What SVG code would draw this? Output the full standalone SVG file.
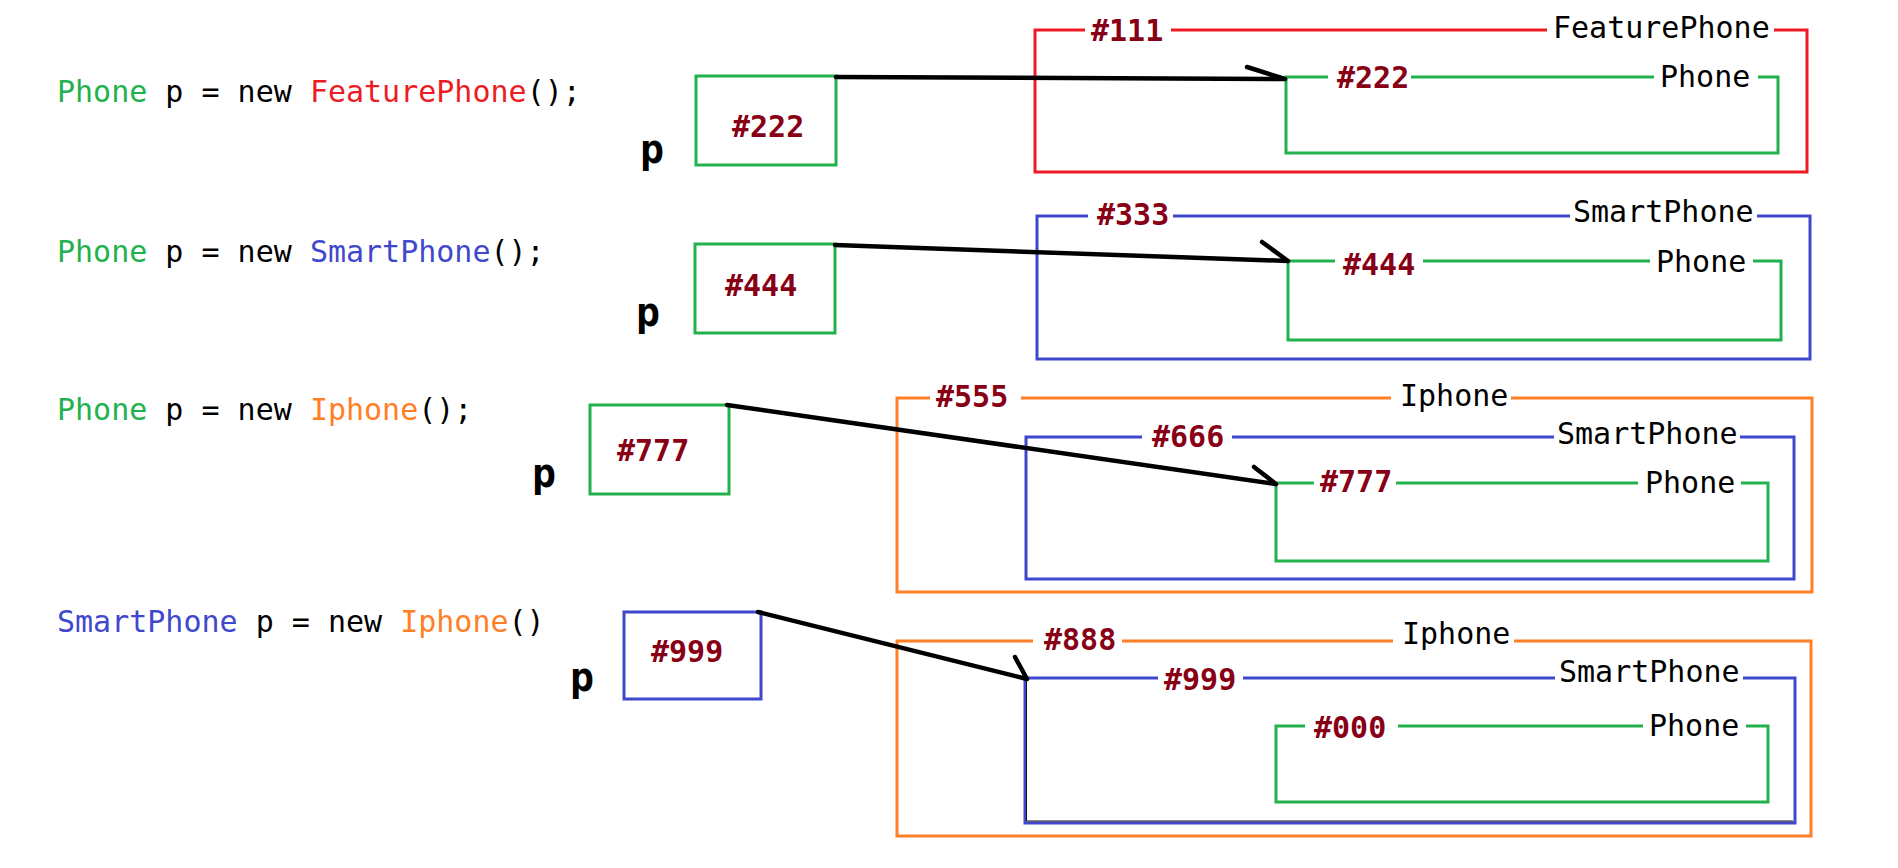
<svg xmlns="http://www.w3.org/2000/svg" width="1898" height="868" viewBox="0 0 1898 868">
<style>
  .code { font-family: "DejaVu Sans Mono", "Liberation Mono", monospace; font-size: 30px; fill: #000; }
  .g { fill: #22b14c; }
  .r { fill: #ed1c24; }
  .b { fill: #3f48cc; }
  .o { fill: #ff7f27; }
  .hex { font-family: "DejaVu Sans Mono", "Liberation Mono", monospace; font-size: 30px; font-weight: bold; fill: #880015; }
  .name { font-family: "DejaVu Sans Mono", "Liberation Mono", monospace; font-size: 30px; fill: #000; }
  .pv { font-family: "DejaVu Sans Mono", "Liberation Mono", monospace; font-size: 40px; font-weight: bold; fill: #000; }
  .box { fill: none; stroke-width: 3; }
  .sg { stroke: #22b14c; }
  .sr { stroke: #ed1c24; }
  .sb { stroke: #3f48cc; }
  .so { stroke: #ff7f27; }
  .bg { fill: #fff; }
  .conn { fill: none; stroke: #000; stroke-width: 4.5; stroke-linecap: round; stroke-linejoin: round; }
</style>
<rect width="1898" height="868" fill="#fff"/>

<!-- code lines -->
<g id="code1"><text class="code" x="57" y="102" xml:space="preserve"><tspan class="g">Phone</tspan> p = new <tspan class="r">FeaturePhone</tspan>();</text></g>
<g id="code2"><text class="code" x="57" y="262" xml:space="preserve"><tspan class="g">Phone</tspan> p = new <tspan class="b">SmartPhone</tspan>();</text></g>
<g id="code3"><text class="code" x="57" y="420" xml:space="preserve"><tspan class="g">Phone</tspan> p = new <tspan class="o">Iphone</tspan>();</text></g>
<g id="code4"><text class="code" x="57" y="632" xml:space="preserve"><tspan class="b">SmartPhone</tspan> p = new <tspan class="o">Iphone</tspan>()</text></g>

<!-- reference variables -->
<g id="var1">
  <rect class="box sg" x="696" y="76" width="140" height="89"/>
  <text class="hex" x="732" y="137">#222</text>
  <text class="pv" x="640" y="163">p</text>
</g>
<g id="var2">
  <rect class="box sg" x="695" y="244" width="140" height="89"/>
  <text class="hex" x="725" y="296">#444</text>
  <text class="pv" x="636" y="326">p</text>
</g>
<g id="var3">
  <rect class="box sg" x="590" y="405" width="139" height="89"/>
  <text class="hex" x="617" y="461">#777</text>
  <text class="pv" x="532" y="487">p</text>
</g>
<g id="var4">
  <rect class="box sb" x="624" y="612" width="137" height="87"/>
  <text class="hex" x="651" y="662">#999</text>
  <text class="pv" x="570" y="691">p</text>
</g>

<!-- object 1: FeaturePhone -->
<g id="obj1">
  <rect class="box sr" x="1035" y="30" width="772" height="142"/>
  <rect class="bg" x="1085" y="15" width="86" height="30"/>
  <text class="hex" x="1091" y="41">#111</text>
  <rect class="bg" x="1547" y="15" width="227" height="30"/>
  <text class="name" x="1553" y="38">FeaturePhone</text>
  <g id="obj1-phone">
    <rect class="box sg" x="1286" y="77" width="492" height="76"/>
    <rect class="bg" x="1328" y="62" width="83" height="30"/>
    <text class="hex" x="1337" y="88">#222</text>
    <rect class="bg" x="1654" y="62" width="104" height="30"/>
    <text class="name" x="1660" y="87">Phone</text>
  </g>
</g>

<!-- object 2: SmartPhone -->
<g id="obj2">
  <rect class="box sb" x="1037" y="216" width="773" height="143"/>
  <rect class="bg" x="1088" y="200" width="85" height="30"/>
  <text class="hex" x="1097" y="225">#333</text>
  <rect class="bg" x="1570" y="200" width="187" height="30"/>
  <text class="name" x="1573" y="222">SmartPhone</text>
  <g id="obj2-phone">
    <rect class="box sg" x="1288" y="261" width="493" height="79"/>
    <rect class="bg" x="1335" y="246" width="88" height="30"/>
    <text class="hex" x="1343" y="275">#444</text>
    <rect class="bg" x="1650" y="246" width="103" height="30"/>
    <text class="name" x="1656" y="272">Phone</text>
  </g>
</g>

<!-- object 3: Iphone -->
<g id="obj3">
  <rect class="box so" x="897" y="398" width="915" height="194"/>
  <rect class="bg" x="930" y="382" width="91" height="30"/>
  <text class="hex" x="936" y="407">#555</text>
  <rect class="bg" x="1391" y="382" width="120" height="30"/>
  <text class="name" x="1400" y="406">Iphone</text>
  <g id="obj3-smart">
    <rect class="box sb" x="1026" y="437" width="768" height="142"/>
    <rect class="bg" x="1142" y="422" width="90" height="30"/>
    <text class="hex" x="1152" y="447">#666</text>
    <rect class="bg" x="1554" y="422" width="186" height="30"/>
    <text class="name" x="1557" y="444">SmartPhone</text>
  </g>
  <g id="obj3-phone">
    <rect class="box sg" x="1276" y="483" width="492" height="78"/>
    <rect class="bg" x="1314" y="468" width="82" height="30"/>
    <text class="hex" x="1320" y="492">#777</text>
    <rect class="bg" x="1638" y="468" width="103" height="30"/>
    <text class="name" x="1645" y="493">Phone</text>
  </g>
</g>

<!-- object 4: Iphone -->
<g id="obj4">
  <rect class="box so" x="897" y="641" width="914" height="195"/>
  <rect class="bg" x="1033" y="625" width="89" height="30"/>
  <text class="hex" x="1044" y="650">#888</text>
  <rect class="bg" x="1393" y="625" width="121" height="30"/>
  <text class="name" x="1402" y="644">Iphone</text>
  <g id="obj4-smart">
    <rect class="box sb" x="1025" y="678" width="770" height="145"/>
    <path d="M1026.5,680 V821 H1793" fill="none" stroke="#111" stroke-width="1"/>
    <rect class="bg" x="1158" y="663" width="85" height="30"/>
    <text class="hex" x="1164" y="690">#999</text>
    <rect class="bg" x="1555" y="663" width="188" height="30"/>
    <text class="name" x="1559" y="682">SmartPhone</text>
  </g>
  <g id="obj4-phone">
    <rect class="box sg" x="1276" y="726" width="492" height="76"/>
    <rect class="bg" x="1305" y="711" width="93" height="30"/>
    <text class="hex" x="1314" y="738">#000</text>
    <rect class="bg" x="1643" y="711" width="103" height="30"/>
    <text class="name" x="1649" y="736">Phone</text>
  </g>
</g>

<!-- connectors -->
<g id="connectors">
  <path class="conn" d="M836,77 L1285,79 M1247,67 L1285,79"/>
  <path class="conn" d="M835,245 L1288,261 M1262,242 L1288,261"/>
  <path class="conn" d="M727,405 L1276,484 M1254,467 L1276,484"/>
  <path class="conn" d="M758,612 L1027,679 M1015,657 L1027,679"/>
</g>
</svg>
